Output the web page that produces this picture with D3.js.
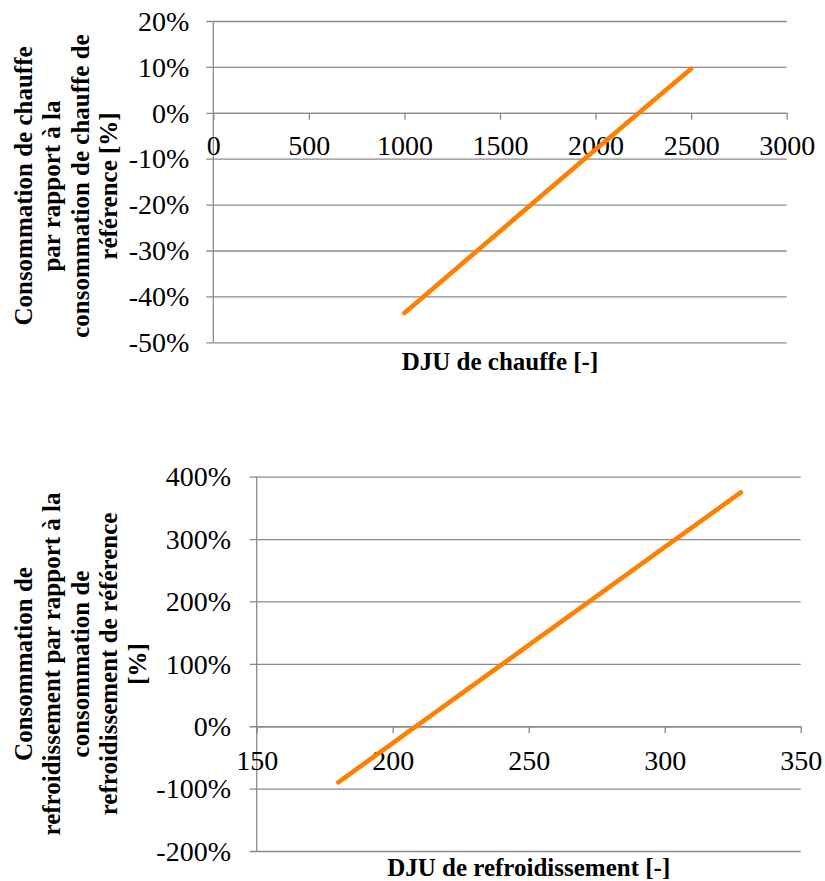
<!DOCTYPE html>
<html>
<head>
<meta charset="utf-8">
<script src="https://cdn.jsdelivr.net/npm/d3@7"></script>
<style>
  html, body { margin: 0; padding: 0; background: #fff; }
  svg { display: block; }
  text { font-family: "Liberation Serif", "Times New Roman", serif; fill: #000; }
</style>
</head>
<body>
<svg id="chart" width="825" height="881"></svg>
<script>
// ---- Data: top chart (heating) ----
const heatDJU = [1000, 1500, 2000, 2500];
const heatConso = [-43.6, -25.8, -8.0, 9.6];
const heatXTicks = [0, 500, 1000, 1500, 2000, 2500, 3000];
const heatYTicks = [-50, -40, -30, -20, -10, 0, 10, 20];
const heatXTitle = "DJU de chauffe [-]";
const heatYTitle = ["Consommation de chauffe", "par rapport à la", "consommation de chauffe de", "référence [%]"];

// ---- Data: bottom chart (cooling) ----
const coolDJU = [180, 200, 250, 300, 328];
const coolConso = [-90, -27, 130, 287, 375];
const coolXTicks = [150, 200, 250, 300, 350];
const coolYTicks = [-200, -100, 0, 100, 200, 300, 400];
const coolXTitle = "DJU de refroidissement [-]";
const coolYTitle = ["Consommation de", "refroidissement par rapport à la", "consommation de", "refroidissement de référence", "[%]"];

const svg = d3.select("#chart");
const GRID = "#8a8a8a";
const ORANGE = "#ff8000";

function drawChart(cfg) {
  const x = d3.scaleLinear().domain(cfg.xDomain).range([cfg.left, cfg.right]);
  const y = d3.scaleLinear().domain(cfg.yDomain).range([cfg.bottom, cfg.top]);
  const g = svg.append("g");

  // horizontal gridlines (extend 7px left of the axis as tick marks)
  const yAxis = d3.axisLeft(y).tickValues(cfg.yTicks).tickSizeInner(-(cfg.right - cfg.left) - 7).tickSizeOuter(0).tickFormat(d => `${d}%`);
  const ya = g.append("g").attr("transform", `translate(${cfg.left - 7},0)`).call(yAxis);
  ya.select(".domain").remove();
  ya.selectAll(".tick line").attr("x1", 0).attr("x2", cfg.right - cfg.left + 7).attr("stroke", GRID).attr("stroke-width", 1.3);
  ya.selectAll(".tick text")
    .attr("x", -cfg.yLabelGap + 7).attr("dy", "0.33em")
    .attr("text-anchor", "end")
    .style("font-family", '"Liberation Serif", serif').style("font-size", "28px").attr("fill", "#000");

  // vertical axis line
  g.append("line").attr("x1", cfg.left).attr("x2", cfg.left).attr("y1", cfg.top).attr("y2", cfg.bottom)
    .attr("stroke", GRID).attr("stroke-width", 1.3);

  // x axis at y = 0
  const xAxis = d3.axisBottom(x).tickValues(cfg.xTicks).tickSizeInner(7).tickSizeOuter(0).tickFormat(d => `${d}`);
  const xa = g.append("g").attr("transform", `translate(0,${y(0)})`).call(xAxis);
  xa.select(".domain").attr("stroke", GRID).attr("stroke-width", 1.3);
  xa.selectAll(".tick line").attr("stroke", GRID).attr("stroke-width", 1.3);
  xa.selectAll(".tick text")
    .attr("y", cfg.xLabelBase).attr("dy", null)
    .style("font-family", '"Liberation Serif", serif').style("font-size", "28px").attr("fill", "#000");

  // data line
  const pts = cfg.xs.map((v, i) => [v, cfg.ys[i]]);
  g.append("path").datum(pts)
    .attr("d", d3.line().x(d => x(d[0])).y(d => y(d[1])))
    .attr("fill", "none").attr("stroke", ORANGE).attr("stroke-width", 4.6)
    .attr("stroke-linecap", "round").attr("stroke-linejoin", "round");

  // x title
  g.append("text").attr("x", (cfg.left + cfg.right) / 2).attr("y", cfg.xTitleBase)
    .attr("text-anchor", "middle").style("font-weight", "bold").style("font-size", "25px")
    .text(cfg.xTitle);

  // y title (rotated, multiline)
  cfg.yTitle.forEach((line, i) => {
    g.append("text")
      .attr("transform", `translate(${31.7 + 28.5 * i},${cfg.yTitleCenter}) rotate(-90)`)
      .attr("text-anchor", "middle").style("font-weight", "bold").style("font-size", "25px")
      .text(line);
  });
}

drawChart({
  xDomain: [0, 3000], yDomain: [-50, 20],
  left: 213.3, right: 786.7, top: 21, bottom: 342.3,
  xTicks: heatXTicks, yTicks: heatYTicks,
  xs: heatDJU, ys: heatConso,
  yLabelGap: 24, xLabelBase: 42,
  xTitle: heatXTitle, xTitleBase: 370,
  yTitle: heatYTitle, yTitleCenter: 186
});

drawChart({
  xDomain: [150, 350], yDomain: [-200, 400],
  left: 256.7, right: 800.7, top: 476.7, bottom: 851,
  xTicks: coolXTicks, yTicks: coolYTicks,
  xs: coolDJU, ys: coolConso,
  yLabelGap: 25.7, xLabelBase: 44,
  xTitle: coolXTitle, xTitleBase: 876,
  yTitle: coolYTitle, yTitleCenter: 664
});
</script>
</body>
</html>
